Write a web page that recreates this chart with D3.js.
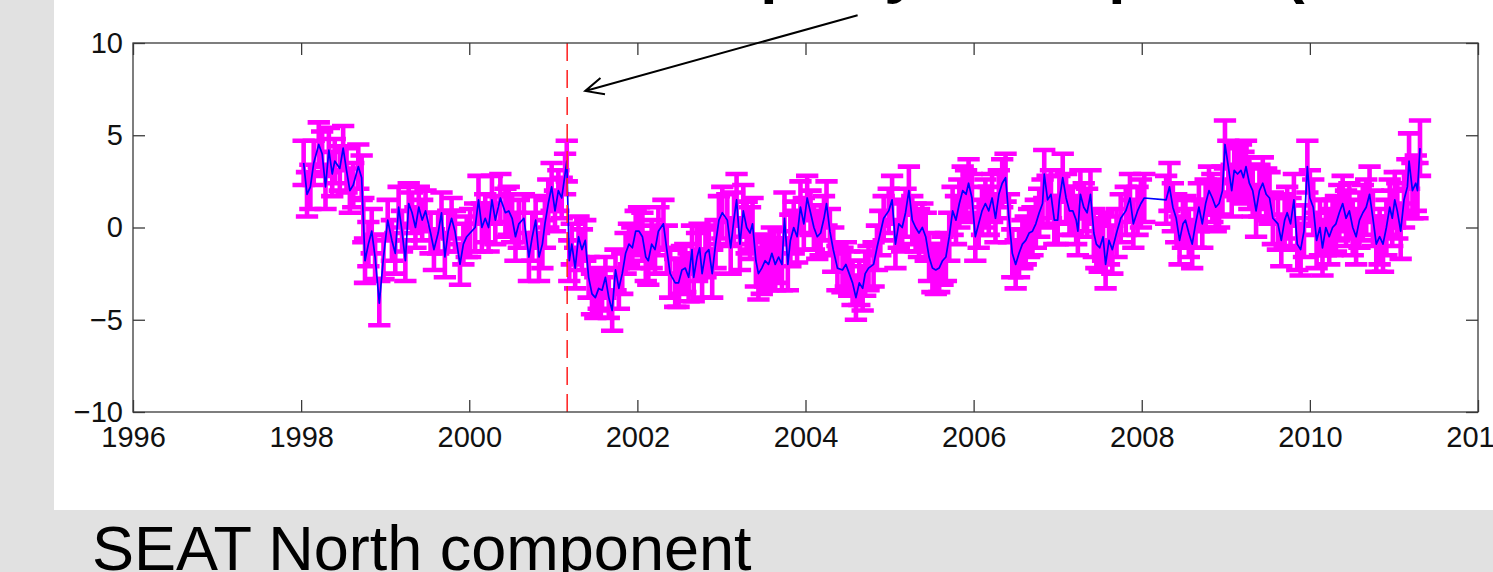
<!DOCTYPE html>
<html>
<head>
<meta charset="utf-8">
<script src="https://cdn.jsdelivr.net/npm/d3@7"></script>
<style>
html, body { margin: 0; padding: 0; background: #e1e1e1; overflow: hidden; }
svg { display: block; font-family: "Liberation Sans", Arial, sans-serif; }
</style>
</head>
<body>
<div id="chart"></div>
<script>
// SEAT GPS station, north component (mm), decimal years
var epoch = [
  1998.03, 1998.07, 1998.11, 1998.15, 1998.21, 1998.25, 1998.29, 1998.33, 1998.37, 1998.40,
  1998.46, 1998.50, 1998.54, 1998.58, 1998.62, 1998.68, 1998.72, 1998.74, 1998.76, 1998.80,
  1998.84, 1998.88, 1998.93, 1998.98, 1999.03, 1999.08, 1999.12, 1999.16, 1999.20, 1999.24,
  1999.28, 1999.32, 1999.36, 1999.40, 1999.44, 1999.48, 1999.54, 1999.58, 1999.63, 1999.67,
  1999.71, 1999.75, 1999.79, 1999.83, 1999.89, 1999.93, 1999.97, 2000.01, 2000.07, 2000.11,
  2000.15, 2000.19, 2000.23, 2000.27, 2000.31, 2000.37, 2000.43, 2000.47, 2000.51, 2000.55,
  2000.59, 2000.65, 2000.71, 2000.75, 2000.79, 2000.83, 2000.87, 2000.90, 2000.94, 2000.98,
  2001.02, 2001.06, 2001.10, 2001.14, 2001.16, 2001.19, 2001.22, 2001.26, 2001.30, 2001.34,
  2001.38, 2001.42, 2001.46, 2001.50, 2001.54, 2001.58, 2001.62, 2001.66, 2001.70, 2001.74,
  2001.78, 2001.82, 2001.86, 2001.90, 2001.94, 2001.98, 2002.02, 2002.06, 2002.10, 2002.13,
  2002.17, 2002.21, 2002.25, 2002.31, 2002.35, 2002.39, 2002.45, 2002.49, 2002.53, 2002.57,
  2002.61, 2002.65, 2002.67, 2002.71, 2002.74, 2002.77, 2002.81, 2002.85, 2002.89, 2002.93,
  2002.97, 2003.01, 2003.07, 2003.11, 2003.15, 2003.18, 2003.22, 2003.26, 2003.30, 2003.34,
  2003.37, 2003.41, 2003.44, 2003.48, 2003.52, 2003.56, 2003.60, 2003.64, 2003.68, 2003.72,
  2003.75, 2003.79, 2003.82, 2003.86, 2003.90, 2003.94, 2003.98, 2004.02, 2004.06, 2004.10,
  2004.14, 2004.18, 2004.22, 2004.25, 2004.29, 2004.33, 2004.38, 2004.44, 2004.48, 2004.52,
  2004.56, 2004.60, 2004.64, 2004.68, 2004.71, 2004.75, 2004.81, 2004.85, 2004.89, 2004.93,
  2004.99, 2005.03, 2005.07, 2005.11, 2005.15, 2005.19, 2005.23, 2005.27, 2005.31, 2005.35,
  2005.39, 2005.43, 2005.47, 2005.51, 2005.55, 2005.59, 2005.63, 2005.67, 2005.71, 2005.75,
  2005.79, 2005.83, 2005.87, 2005.91, 2005.94, 2005.98, 2006.02, 2006.06, 2006.10, 2006.14,
  2006.18, 2006.22, 2006.26, 2006.30, 2006.34, 2006.38, 2006.42, 2006.46, 2006.50, 2006.54,
  2006.58, 2006.62, 2006.66, 2006.70, 2006.74, 2006.78, 2006.82, 2006.84, 2006.88, 2006.92,
  2006.96, 2007.00, 2007.02, 2007.06, 2007.10, 2007.14, 2007.18, 2007.22, 2007.24, 2007.27,
  2007.31, 2007.35, 2007.39, 2007.43, 2007.46, 2007.50, 2007.54, 2007.57, 2007.61, 2007.65,
  2007.70, 2007.75, 2007.81, 2007.86, 2007.90, 2007.95, 2007.99, 2008.03, 2008.29, 2008.33,
  2008.37, 2008.41, 2008.45, 2008.49, 2008.52, 2008.56, 2008.60, 2008.64, 2008.68, 2008.72,
  2008.76, 2008.80, 2008.84, 2008.88, 2008.92, 2008.96, 2008.99, 2009.03, 2009.07, 2009.10,
  2009.14, 2009.18, 2009.21, 2009.24, 2009.28, 2009.32, 2009.36, 2009.40, 2009.44, 2009.48,
  2009.52, 2009.56, 2009.62, 2009.66, 2009.70, 2009.73, 2009.77, 2009.81, 2009.85, 2009.89,
  2009.93, 2009.97, 2010.00, 2010.04, 2010.08, 2010.12, 2010.15, 2010.19, 2010.23, 2010.27,
  2010.31, 2010.35, 2010.39, 2010.43, 2010.47, 2010.51, 2010.55, 2010.59, 2010.63, 2010.67,
  2010.71, 2010.75, 2010.79, 2010.83, 2010.87, 2010.91, 2010.95, 2010.98, 2011.01, 2011.04,
  2011.08, 2011.12, 2011.16, 2011.18, 2011.22, 2011.26, 2011.28, 2011.31
];
var north = [
  3.5, 1.8, 2.2, 3.5, 4.5, 4.0, 2.2, 4.2, 2.9, 3.6,
  3.2, 4.3, 3.1, 2.0, 2.3, 3.3, 2.7, 0.4, -1.8, -0.9,
  -0.2, -1.6, -4.1, -1.6, 0.4, -0.7, -1.4, 1.1, -0.2, -1.8,
  1.3, 0.8, 0.0, 1.1, 0.4, 0.9, -0.3, -1.2, -0.3, 0.8,
  -1.6, -0.2, 0.5, -0.2, -2.0, -0.9, -0.5, -0.3, 0.0, 1.5,
  0.0, 0.5, 0.0, 1.5, 0.4, 1.6, 0.8, 0.9, 0.5, -0.5,
  0.2, 0.5, -1.6, -0.5, 0.4, -1.6, -0.9, 0.2, 1.3, 2.2,
  0.9, 2.0, 1.6, 2.9, 3.6, -1.8, -0.9, -2.2, -0.5, -1.2,
  -0.7, -2.7, -3.6, -3.8, -3.3, -3.4, -2.7, -3.8, -4.5, -2.3,
  -3.3, -2.5, -1.4, -0.9, -1.1, -0.2, -0.2, -0.5, -1.6, -1.8,
  -0.9, -1.2, -0.2, 0.2, -1.2, -2.5, -3.0, -3.0, -2.3, -2.2,
  -2.7, -1.2, -2.7, -1.6, -1.1, -2.5, -1.4, -1.2, -2.5, -0.9,
  0.4, 0.8, 0.4, -1.1, 0.5, 1.5, -0.9, 0.9, 0.0, -0.3,
  0.2, -1.8, -2.5, -2.2, -1.8, -2.0, -1.4, -2.0, -1.6, -2.0,
  0.5, -2.0, -0.7, 0.0, -0.5, 1.1, 0.2, 1.6, 0.8, 0.0,
  -0.5, -0.3, 0.5, 1.3, -0.2, -1.2, -2.2, -2.3, -2.0, -2.5,
  -3.0, -3.8, -3.0, -3.3, -2.5, -2.2, -2.0, -1.1, -0.3, 0.5,
  0.9, 1.5, -0.9, 0.2, 0.0, 0.8, 2.0, 0.4, 0.0, -0.3,
  0.0, -0.5, -1.6, -2.2, -2.3, -2.2, -1.8, -1.6, -0.5, 0.9,
  0.4, 1.3, 2.0, 1.8, 2.4, 1.6, -0.5, 0.2, 0.9, 1.3,
  0.9, 1.6, 0.5, 1.8, 2.4, 2.7, 0.5, -1.4, -2.0, -1.4,
  -0.9, -0.7, -0.3, -0.2, 0.2, 0.8, 1.3, 2.9, 1.5, 1.8,
  0.4, 0.4, 1.5, 2.7, 1.6, 0.9, 0.9, 0.4, -0.2, 1.8,
  1.1, 0.8, 1.8, -0.3, -0.9, -1.1, -0.5, -2.0, -0.7, -1.2,
  -0.3, 0.5, 0.9, 1.6, 0.2, 0.9, 1.3, 1.6, 1.5, 2.2,
  1.1, 0.5, -0.7, 0.2, 0.4, -0.3, -0.9, 0.2, 1.1, 0.2,
  1.3, 2.0, 1.6, 1.1, 1.3, 2.0, 4.5, 3.3, 2.0, 3.1,
  2.9, 3.1, 2.7, 3.3, 2.4, 2.0, 0.9, 2.0, 2.4, 1.8,
  1.6, 0.5, 0.2, -0.7, 0.4, 0.8, 0.2, 1.5, -0.9, -1.2,
  -0.2, 3.3, 1.6, 1.1, -0.7, 0.0, -1.1, 0.0, -0.5, 0.0,
  0.2, 0.8, 1.3, 0.5, 0.9, 0.0, -0.5, 0.4, 0.8, 1.1,
  1.8, 0.5, -0.9, -0.5, -0.9, 0.0, 1.1, 0.5, 1.5, 0.9,
  -0.2, 1.5, 2.2, 3.6, 2.0, 2.4, 2.0, 4.3
];
// typical 1-sigma error per calendar year
var sigmaYear = [1998, 1999, 2000, 2001, 2002, 2003, 2004, 2005, 2006, 2007, 2008, 2009, 2010, 2011];
var sigmaVal  = [1.2, 1.1, 1.3, 1.1, 1.3, 1.4, 1.2, 1.3, 1.3, 1.3, 1.3, 1.4, 1.5, 1.5];

var xTicks = [1996, 1998, 2000, 2002, 2004, 2006, 2008, 2010, 2012];
var yTicks = [-10, -5, 0, 5, 10];
var quakeYear = 2001.165;
var arrowFrom = [2004.62, 11.5];
var arrowTo = [2001.38, 7.4];
var titleText = 'Nisqually earthquake (February 2001)';
var captionText = 'SEAT North component';

var W = 1493, H = 572;
var svg = d3.select('#chart').append('svg').attr('width', W).attr('height', H);

svg.append('rect').attr('width', W).attr('height', H).attr('fill', '#e1e1e1');
svg.append('rect').attr('x', 54).attr('y', 0).attr('width', W - 54).attr('height', 510).attr('fill', '#fff');

var x = d3.scaleLinear().domain([1996, 2012]).range([133, 1478]);
var y = d3.scaleLinear().domain([-10, 10]).range([412, 43]);

var data = epoch.map(function (t, i) {
    var s = sigmaVal[sigmaYear.indexOf(Math.floor(t))];
    return { t: t, v: north[i], e: s };
});

// error bars (MATLAB style: cap width = 1% of x-range each side)
var capW = (d3.max(epoch) - d3.min(epoch)) / 100;
svg.append('g').selectAll('path').data(data).join('path')
    .attr('d', function (d) {
        var xl = x(d.t - capW), xr = x(d.t + capW), xc = x(d.t);
        var yh = y(d.v + d.e), yl = y(d.v - d.e);
        return 'M' + xl + ',' + yh + 'H' + xr + 'M' + xc + ',' + yh + 'V' + yl + 'M' + xl + ',' + yl + 'H' + xr;
    })
    .attr('fill', 'none').attr('stroke', '#ff00ff').attr('stroke-width', 4.6);

var line = d3.line().x(function (d) { return x(d.t); }).y(function (d) { return y(d.v); });
svg.append('path').datum(data).attr('d', line)
    .attr('fill', 'none').attr('stroke', '#0000ff').attr('stroke-width', 1.7).attr('stroke-linejoin', 'round');

// earthquake marker
svg.append('line')
    .attr('x1', x(quakeYear)).attr('x2', x(quakeYear)).attr('y1', y(10)).attr('y2', y(-10))
    .attr('stroke', '#ff2a2a').attr('stroke-width', 1.6).attr('stroke-dasharray', '18,9');

// axes, ticks inward on all sides
var fmt = function (d) { return d < 0 ? '\u2212' + Math.abs(d) : d; };
var gx = svg.append('g').attr('transform', 'translate(0,' + y(-10) + ')')
    .call(d3.axisBottom(x).tickValues(xTicks).tickSize(-12).tickPadding(14).tickFormat(fmt));
var gy = svg.append('g').attr('transform', 'translate(' + x(1996) + ',0)')
    .call(d3.axisLeft(y).tickValues(yTicks).tickSize(-12).tickPadding(10).tickFormat(fmt));
var gt = svg.append('g').attr('transform', 'translate(0,' + y(10) + ')')
    .call(d3.axisTop(x).tickValues(xTicks).tickSize(-12).tickFormat(''));
var gr = svg.append('g').attr('transform', 'translate(' + x(2012) + ',0)')
    .call(d3.axisRight(y).tickValues(yTicks).tickSize(-12).tickFormat(''));
[gx, gy, gt, gr].forEach(function (g) {
    g.select('.domain').remove();
    g.selectAll('line').attr('stroke', '#3a3a3a').attr('stroke-width', 1.3);
    g.selectAll('text').attr('font-size', 29).attr('fill', '#111')
        .attr('font-family', '"Liberation Sans", Arial, sans-serif');
});
svg.append('rect')
    .attr('x', x(1996)).attr('y', y(10)).attr('width', x(2012) - x(1996)).attr('height', y(-10) - y(10))
    .attr('fill', 'none').attr('stroke', '#3a3a3a').attr('stroke-width', 1.3);

// annotation arrow
var ax0 = x(arrowFrom[0]), ay0 = y(arrowFrom[1]), ax1 = x(arrowTo[0]), ay1 = y(arrowTo[1]);
var ang = Math.atan2(ay0 - ay1, ax0 - ax1), hl = 20, ha = 25 * Math.PI / 180;
svg.append('path')
    .attr('d', 'M' + ax0 + ',' + ay0 + 'L' + ax1 + ',' + ay1 +
        'M' + (ax1 + hl * Math.cos(ang + ha)) + ',' + (ay1 + hl * Math.sin(ang + ha)) +
        'L' + ax1 + ',' + ay1 +
        'L' + (ax1 + hl * Math.cos(ang - ha)) + ',' + (ay1 + hl * Math.sin(ang - ha)))
    .attr('fill', 'none').attr('stroke', '#000').attr('stroke-width', 2);

// slide title (cut off at the top of the picture) and caption
svg.append('text').text(titleText).attr('x', 643).attr('y', -9)
    .attr('font-size', 62).attr('font-weight', 'bold').attr('fill', '#000');
svg.append('text').text(captionText).attr('x', 92).attr('y', 570)
    .attr('font-size', 63).attr('fill', '#000');
</script>
</body>
</html>
